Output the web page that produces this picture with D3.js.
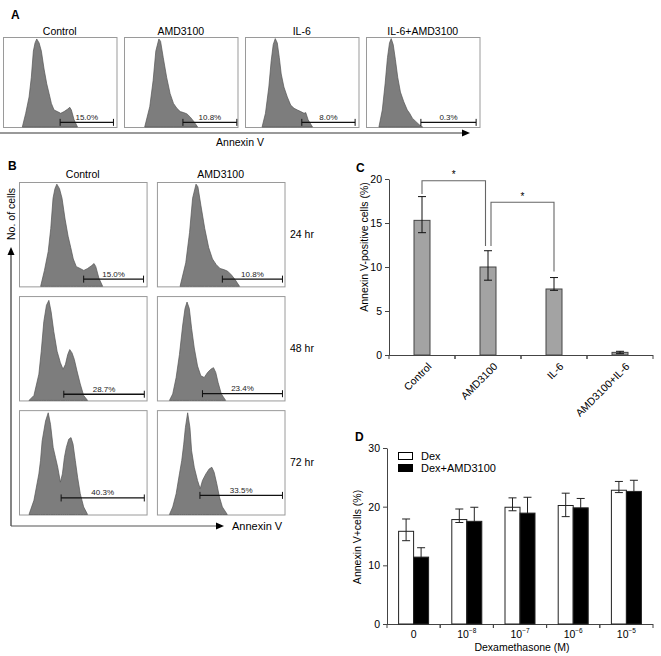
<!DOCTYPE html>
<html><head><meta charset="utf-8">
<script src="https://cdn.jsdelivr.net/npm/d3@7"></script>
<style>body{margin:0;background:#fff;} svg{display:block;font-family:"Liberation Sans",Arial,sans-serif;}</style>
</head><body><svg id="c" width="661" height="656"></svg>
<script>
// ---------- Histogram data: [channel (0-100), relative count (0-1)] ----------
const histControl24 = [[16.3,0],[19.3,0.154],[22.3,0.338],[24.3,0.559],[26.1,0.853],[27.6,0.945],[29.1,0.989],[31.2,0.945],[33.2,0.853],[35.6,0.651],[38.0,0.485],[40.1,0.375],[42.1,0.265],[44.5,0.191],[47.5,0.173],[50.4,0.154],[53.4,0.173],[56.4,0.199],[58.5,0.221],[59.9,0.191],[62.3,0.081],[65.3,0]];
const histAmd24 = [[17.5,0],[22.0,0.228],[25.0,0.522],[27.4,0.853],[30.1,0.989],[31.6,0.963],[34.0,0.779],[37.0,0.559],[40.1,0.375],[43.1,0.265],[46.1,0.210],[49.1,0.173],[52.1,0.162],[55.1,0.147],[58.1,0.110],[61.1,0.063],[64.5,0]];
const histIl6 = [[14.3,0],[17.3,0.154],[20.3,0.449],[22.4,0.743],[24.2,0.926],[26.0,0.993],[27.8,0.945],[29.6,0.779],[31.3,0.596],[33.7,0.449],[36.7,0.338],[39.7,0.246],[42.7,0.210],[45.7,0.191],[48.7,0.173],[51.6,0.154],[53.1,0.162],[55.2,0.081],[59.1,0]];
const histIl6Amd = [[10.6,0],[13.6,0.191],[16.1,0.485],[18.2,0.779],[20.0,0.945],[21.5,0.993],[23.3,0.926],[25.2,0.761],[27.3,0.559],[29.7,0.393],[32.7,0.283],[35.8,0.191],[37.9,0.154],[40.3,0.099],[43.3,0.063],[46.4,0.026],[49.4,0]];
const histControl48 = [[7.1,0],[11.0,0.048],[14.9,0.254],[16.8,0.476],[18.8,0.762],[20.9,0.921],[22.8,0.968],[24.6,0.857],[26.7,0.667],[29.3,0.476],[31.9,0.365],[34.0,0.302],[35.9,0.349],[37.7,0.444],[39.3,0.492],[41.1,0.460],[42.9,0.397],[45.0,0.286],[47.6,0.159],[50.3,0.048],[53.4,0]];
const histAmd48 = [[9.1,0],[11.7,0.063],[14.4,0.222],[17.0,0.444],[19.6,0.730],[21.4,0.889],[23.0,0.952],[24.8,0.889],[26.6,0.698],[28.7,0.508],[31.3,0.333],[33.9,0.238],[36.6,0.222],[39.2,0.270],[41.8,0.302],[43.9,0.317],[45.7,0.270],[47.5,0.175],[50.1,0.063],[53.5,0]];
const histControl72 = [[7.1,0],[11.0,0.137],[14.9,0.393],[16.2,0.521],[17.5,0.712],[20.2,0.904],[22.3,0.984],[24.1,0.872],[26.2,0.649],[28.0,0.553],[29.8,0.457],[31.9,0.313],[33.5,0.393],[35.1,0.553],[36.6,0.649],[38.5,0.728],[40.3,0.744],[41.9,0.681],[43.7,0.521],[45.5,0.361],[47.6,0.201],[50.3,0.073],[53.4,0]];
const histAmd72 = [[9.1,0],[11.7,0.073],[14.4,0.201],[17.0,0.393],[18.8,0.521],[20.4,0.681],[21.7,0.840],[23.5,0.984],[25.3,0.840],[26.6,0.617],[28.7,0.457],[31.3,0.329],[33.4,0.249],[35.2,0.329],[37.9,0.393],[40.5,0.441],[42.6,0.457],[44.4,0.409],[46.5,0.297],[48.6,0.169],[50.9,0.073],[54.8,0]];

// Panel A
const aTitles = ["Control","AMD3100","IL-6","IL-6+AMD3100"];
const aHists = [histControl24, histAmd24, histIl6, histIl6Amd];
const aGateStart = [49.9, 51.5, 49.6, 47.9];
const aGateEnd = [97.3, 99.4, 97.0, 97.0];
const aPercent = ["15.0%","10.8%","8.0%","0.3%"];

// Panel B
const bCols = ["Control","AMD3100"];
const bRows = ["24 hr","48 hr","72 hr"];
const bHists = [[histControl24, histAmd24],[histControl48, histAmd48],[histControl72, histAmd72]];
const bGateStart = [[50.3, 50.9],[34.6, 35.2],[32.5, 33.2]];
const bGateEnd = [[97.6, 98.4],[98.2, 98.4],[98.2, 98.4]];
const bGateLevel = [[0.07, 0.07],[0.06, 0.065],[0.16, 0.185]];
const bPercent = [["15.0%","10.8%"],["28.7%","23.4%"],["40.3%","33.5%"]];

// Panel C
const cCategories = ["Control","AMD3100","IL-6","AMD3100+IL-6"];
const cValues = [15.3, 10.0, 7.5, 0.3];
const cErrHigh = [18.0, 11.85, 8.8, 0.42];
const cErrLow = [13.9, 8.5, 7.35, 0.15];
const cTicks = [0,5,10,15,20];
const cSig = [{from:0,to:1,level:19.8,legFrom:18.3,legTo:12.4},{from:1,to:2,level:17.35,legFrom:12.4,legTo:9.5}];

// Panel D
const dGroups = ["0","-8","-7","-6","-5"];
const dSeries = ["Dex","Dex+AMD3100"];
const dexValues = [15.8, 17.8, 19.9, 20.2, 22.8];
const dexHigh = [17.9, 19.6, 21.5, 22.3, 24.3];
const dexLow = [14.2, 17.3, 19.3, 18.3, 22.4];
const dexAmdValues = [11.4, 17.5, 18.9, 19.8, 22.6];
const dexAmdHigh = [13.0, 19.9, 21.6, 21.4, 24.5];
const dexAmdLow = [9.8, 15.1, 16.2, 18.2, 20.7];
const dTicks = [0,10,20,30];

const svg = d3.select("#c");
const FILL = "#7d7d7d";

function drawHist(g, x0, y0, w, h, data, gs, ge, glevel, label) {
  g.append("rect").attr("x", x0+0.5).attr("y", y0+0.5).attr("width", w).attr("height", h)
    .attr("fill", "none").attr("stroke", "#9a9a9a").attr("stroke-width", 1);
  const x = d3.scaleLinear().domain([0,100]).range([x0+1, x0+w]);
  const y = d3.scaleLinear().domain([0,1]).range([y0+h, y0+1]);
  const area = d3.area().x(d=>x(d[0])).y0(y0+h).y1(d=>y(d[1]));
  g.append("path").datum(data).attr("d", area).attr("fill", FILL).attr("stroke", "#555").attr("stroke-width", 0.7);
  const gy = y(glevel);
  g.append("line").attr("x1", x(gs)).attr("x2", x(ge)).attr("y1", gy).attr("y2", gy).attr("stroke", "#111").attr("stroke-width", 1.3);
  [gs, ge].forEach(v => g.append("line").attr("x1", x(v)).attr("x2", x(v)).attr("y1", gy-3.5).attr("y2", gy+3.5).attr("stroke", "#111").attr("stroke-width", 1));
  g.append("text").attr("x", (x(gs)+x(ge))/2).attr("y", gy-2.5).attr("text-anchor", "middle")
    .attr("font-size", 8).attr("fill", "#222").text(label);
}

function arrowHead(g, tipX, tipY, dir) {
  let pts;
  if (dir === "right") pts = [[tipX, tipY],[tipX-8, tipY-3.5],[tipX-8, tipY+3.5]];
  else pts = [[tipX, tipY],[tipX-3.5, tipY+8],[tipX+3.5, tipY+8]];
  g.append("polygon").attr("points", pts.map(p=>p.join(",")).join(" ")).attr("fill", "#000");
}

// ---------- Panel A ----------
const gA = svg.append("g");
gA.append("text").attr("x", 11).attr("y", 19).attr("font-size", 12).attr("font-weight", "bold").text("A");
const aBand = d3.scaleBand().domain(aTitles).range([3, 479.5]).paddingInner(0.062).paddingOuter(0);
aTitles.forEach((t, i) => {
  const bx = aBand(t), bw = aBand.bandwidth();
  gA.append("text").attr("x", bx + bw/2).attr("y", 35).attr("text-anchor", "middle").attr("font-size", 10.5).text(t);
  drawHist(gA, bx, 37, bw, 90, aHists[i], aGateStart[i], aGateEnd[i], 0.052, aPercent[i]);
});
gA.append("line").attr("x1", 0).attr("x2", 463).attr("y1", 133).attr("y2", 133).attr("stroke", "#777").attr("stroke-width", 1.3);
arrowHead(gA, 470, 133, "right");
gA.append("text").attr("x", 240).attr("y", 146).attr("text-anchor", "middle").attr("font-size", 10.5).text("Annexin V");

// ---------- Panel B ----------
const gB = svg.append("g");
gB.append("text").attr("x", 8).attr("y", 170).attr("font-size", 12).attr("font-weight", "bold").text("B");
const bColBand = d3.scaleBand().domain(bCols).range([19, 284.5]).paddingInner(0.075);
const bRowBand = d3.scaleBand().domain(bRows).range([182, 514.5]).paddingInner(0.085);
bCols.forEach(c => gB.append("text").attr("x", bColBand(c) + bColBand.bandwidth()/2).attr("y", 178)
  .attr("text-anchor", "middle").attr("font-size", 10.5).text(c));
bRows.forEach((r, ri) => {
  gB.append("text").attr("x", 290).attr("y", bRowBand(r) + bRowBand.bandwidth()/2 + 4).attr("font-size", 10.5).text(r);
  bCols.forEach((c, ci) => {
    drawHist(gB, bColBand(c), bRowBand(r), bColBand.bandwidth(), bRowBand.bandwidth(),
      bHists[ri][ci], bGateStart[ri][ci], bGateEnd[ri][ci], bGateLevel[ri][ci], bPercent[ri][ci]);
  });
});
gB.append("line").attr("x1", 11).attr("x2", 11).attr("y1", 254).attr("y2", 526).attr("stroke", "#222").attr("stroke-width", 1.1);
arrowHead(gB, 11, 247, "up");
gB.append("line").attr("x1", 11).attr("x2", 217).attr("y1", 526).attr("y2", 526).attr("stroke", "#555").attr("stroke-width", 1.1);
arrowHead(gB, 224, 526, "right");
gB.append("text").attr("x", 232).attr("y", 530).attr("font-size", 11).text("Annexin V");
gB.append("text").attr("transform", "translate(15,214) rotate(-90)").attr("text-anchor", "middle").attr("font-size", 10.5).text("No. of cells");

// ---------- Panel C ----------
const gC = svg.append("g");
gC.append("text").attr("x", 356).attr("y", 172).attr("font-size", 12).attr("font-weight", "bold").text("C");
const cx = d3.scaleBand().domain(cCategories).range([389, 653]).padding(0);
const cy = d3.scaleLinear().domain([0,20]).range([355,179]);
gC.append("g").attr("transform", "translate(389,0)")
  .call(d3.axisLeft(cy).tickValues(cTicks).tickSize(4).tickSizeOuter(0))
  .call(g => { g.selectAll("text").attr("font-size", 10.5).attr("font-family", "Liberation Sans, Arial").attr("fill", "#000"); g.select(".domain").attr("stroke", "#444"); g.selectAll("line").attr("stroke", "#444"); });
gC.append("line").attr("x1", 389).attr("x2", 653).attr("y1", 355.5).attr("y2", 355.5).attr("stroke", "#444");
cCategories.forEach(c => [cx(c), cx(c)+cx.bandwidth()].forEach(v =>
  gC.append("line").attr("x1", v).attr("x2", v).attr("y1", 355).attr("y2", 359).attr("stroke", "#444")));
const cBW = 16;
cCategories.forEach((c, i) => {
  const mx = cx(c) + cx.bandwidth()/2;
  gC.append("rect").attr("x", mx - cBW/2).attr("y", cy(cValues[i])).attr("width", cBW).attr("height", cy(0) - cy(cValues[i]))
    .attr("fill", "#a3a3a3").attr("stroke", "#444").attr("stroke-width", 1);
  gC.append("line").attr("x1", mx).attr("x2", mx).attr("y1", cy(cErrHigh[i])).attr("y2", cy(cErrLow[i])).attr("stroke", "#111");
  [cErrHigh[i], cErrLow[i]].forEach(v => gC.append("line").attr("x1", mx-4).attr("x2", mx+4).attr("y1", cy(v)).attr("y2", cy(v)).attr("stroke", "#111"));
  gC.append("text").attr("transform", `translate(${mx+5},362) rotate(-45)`).attr("text-anchor", "end")
    .attr("dy", "0.7em").attr("font-size", 10.5).text(c);
});
cSig.forEach((s, k) => {
  const x1 = cx(cCategories[s.from]) + cx.bandwidth()/2 + (k === 0 ? 0 : 3);
  const x2 = cx(cCategories[s.to]) + cx.bandwidth()/2 + (k === 0 ? -2.5 : 0);
  gC.append("path").attr("d", `M${x1},${cy(s.legFrom)}V${cy(s.level)}H${x2}V${cy(s.legTo)}`)
    .attr("fill", "none").attr("stroke", "#666").attr("stroke-width", 1.1);
  gC.append("text").attr("x", (x1+x2)/2).attr("y", cy(s.level) - 2.5).attr("text-anchor", "middle").attr("font-size", 10).text("*");
});
gC.append("text").attr("transform", "translate(368,247) rotate(-90)").attr("text-anchor", "middle").attr("font-size", 10.5).text("Annexin V-positive cells (%)");

// ---------- Panel D ----------
const gD = svg.append("g");
gD.append("text").attr("x", 355).attr("y", 441).attr("font-size", 12).attr("font-weight", "bold").text("D");
const dx = d3.scaleBand().domain(dGroups).range([387, 653]).padding(0);
const dxInner = d3.scaleBand().domain(dSeries).range([-15, 15]).padding(0);
const dy = d3.scaleLinear().domain([0,30]).range([624,448]);
gD.append("g").attr("transform", "translate(387,0)")
  .call(d3.axisLeft(dy).tickValues(dTicks).tickSize(4).tickSizeOuter(0))
  .call(g => { g.selectAll("text").attr("font-size", 10.5).attr("font-family", "Liberation Sans, Arial").attr("fill", "#000"); g.select(".domain").attr("stroke", "#444"); g.selectAll("line").attr("stroke", "#444"); });
gD.append("line").attr("x1", 387).attr("x2", 653).attr("y1", 624.5).attr("y2", 624.5).attr("stroke", "#444");
dGroups.forEach(gk => [dx(gk), dx(gk)+dx.bandwidth()].forEach(v =>
  gD.append("line").attr("x1", v).attr("x2", v).attr("y1", 624).attr("y2", 628).attr("stroke", "#444")));
const dSeriesData = [
  {vals: dexValues, hi: dexHigh, lo: dexLow, fill: "#fff"},
  {vals: dexAmdValues, hi: dexAmdHigh, lo: dexAmdLow, fill: "#000"}
];
dGroups.forEach((gk, i) => {
  const center = dx(gk) + dx.bandwidth()/2;
  dSeries.forEach((s, si) => {
    const sd = dSeriesData[si];
    const bx = center + dxInner(s), bw = dxInner.bandwidth();
    const mx = bx + bw/2;
    gD.append("line").attr("x1", mx).attr("x2", mx).attr("y1", dy(sd.hi[i])).attr("y2", dy(sd.lo[i])).attr("stroke", "#222");
    [sd.hi[i], sd.lo[i]].forEach(v => gD.append("line").attr("x1", mx-4).attr("x2", mx+4).attr("y1", dy(v)).attr("y2", dy(v)).attr("stroke", "#222"));
    gD.append("rect").attr("x", bx).attr("y", dy(sd.vals[i])).attr("width", bw).attr("height", dy(0) - dy(sd.vals[i]))
      .attr("fill", sd.fill).attr("stroke", "#222").attr("stroke-width", 1).attr("fill-opacity", si === 0 ? 0 : 1);
  });
  const t = gD.append("text").attr("x", center).attr("y", 638).attr("text-anchor", "middle").attr("font-size", 10.5);
  if (gk === "0") t.text("0");
  else { t.append("tspan").text("10"); t.append("tspan").attr("dy", -5).attr("font-size", 6.5).text(gk.replace("-", "\u2212")); }
});
gD.append("text").attr("x", 522).attr("y", 651).attr("text-anchor", "middle").attr("font-size", 10.5).text("Dexamethasone (M)");
gD.append("text").attr("transform", "translate(361,537) rotate(-90)").attr("text-anchor", "middle").attr("font-size", 10.5).text("Annexin V+cells (%)");
dSeries.forEach((s, si) => {
  const ly = 452 + si * 12;
  gD.append("rect").attr("x", 398.5).attr("y", ly + 0.5).attr("width", 14).attr("height", 7).attr("fill", dSeriesData[si].fill).attr("stroke", "#000");
  gD.append("text").attr("x", 421).attr("y", ly + 8).attr("font-size", 11).text(s);
});
</script></body></html>
